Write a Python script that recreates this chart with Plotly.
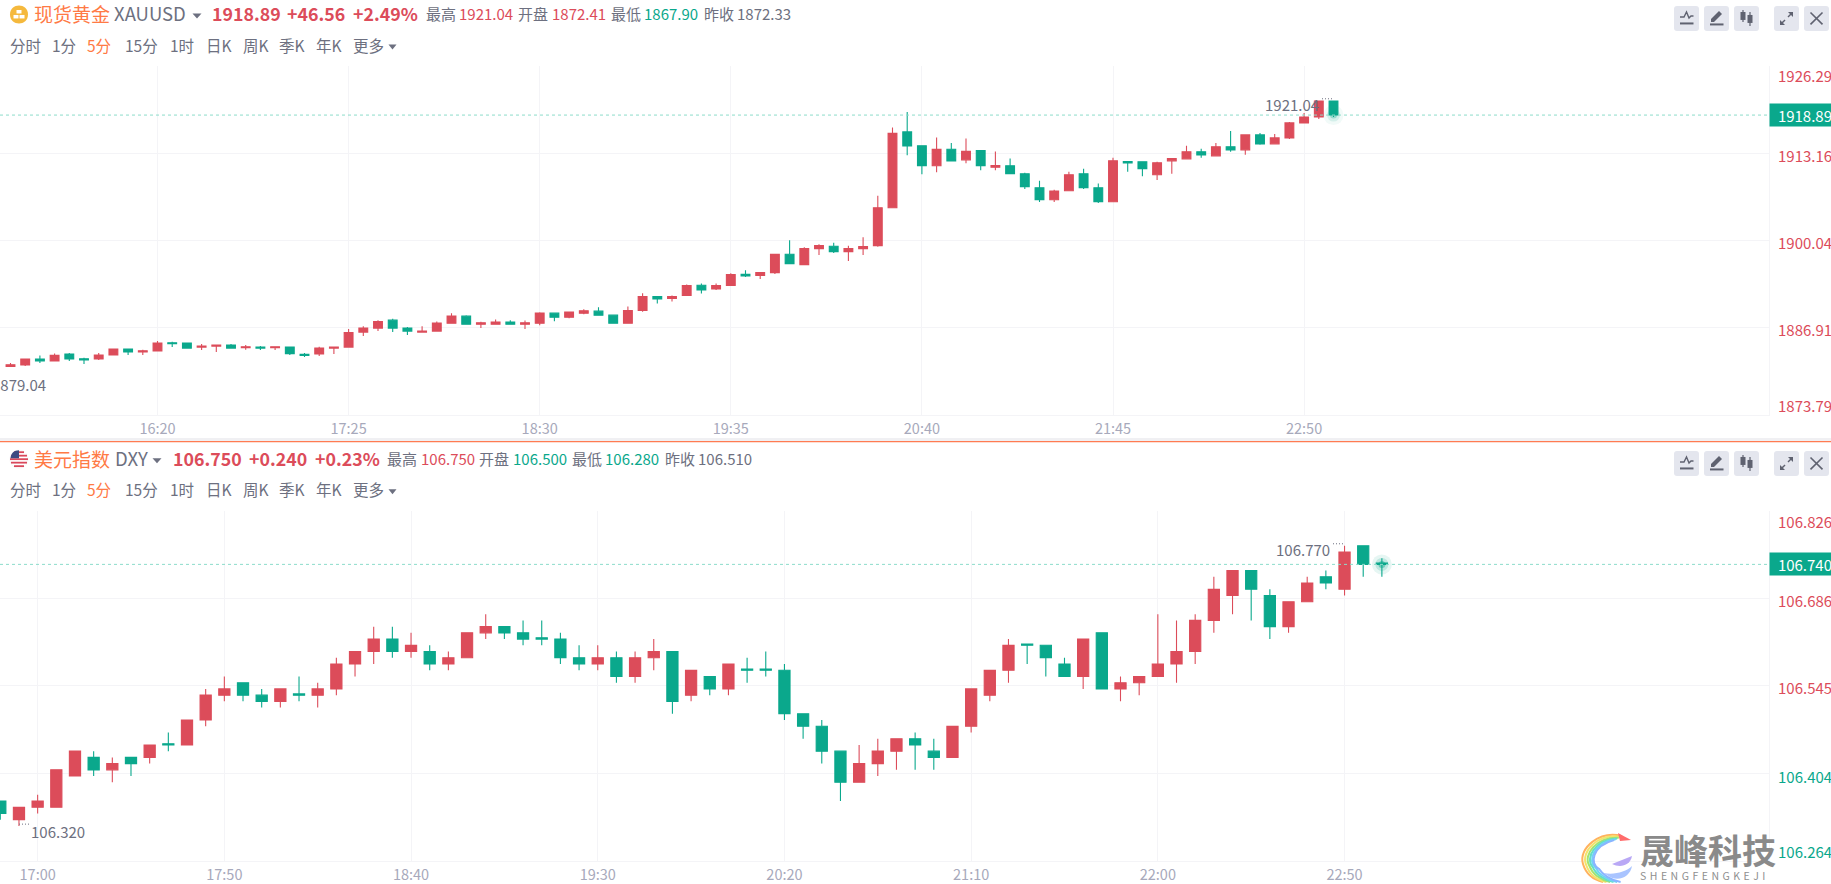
import pandas as pd
import plotly.graph_objects as go

W, H = 1831, 884
FONT = "Noto Sans CJK SC"
RED = "#dc4c5a"
GREEN = "#0aa88c"
ORANGE = "#ff7a45"
GRAY = "#6d7080"
TICK_GRAY = "#a7a9bb"
GRID = "#f4f4f7"
BTN = "#e4e6ee"
ICON = "#5f6270"

# gold, 5 minute bars
gold_open = [1881.11, 1881.31, 1882.21, 1881.91, 1882.96, 1882.26, 1882.21, 1882.81, 1883.71, 1883.26,
             1883.41, 1884.66, 1884.61, 1884.01, 1884.16, 1884.31, 1883.91, 1884.01, 1883.91, 1884.01,
             1882.91, 1882.96, 1883.86, 1884.01, 1886.26, 1886.86, 1888.06, 1886.86, 1886.26, 1886.41,
             1887.61, 1888.66, 1887.46, 1887.46, 1887.76, 1887.46, 1887.61, 1889.11, 1888.51, 1889.11,
             1889.41, 1888.81, 1887.61, 1889.51, 1891.61, 1891.31, 1891.76, 1893.31, 1892.76, 1893.26,
             1894.96, 1894.76, 1895.21, 1897.96, 1896.41, 1898.81, 1899.16, 1898.36, 1898.81, 1899.26,
             1904.96, 1916.36, 1914.26, 1911.26, 1913.76, 1912.16, 1913.56, 1911.06, 1911.26, 1910.06,
             1907.96, 1906.16, 1907.51, 1910.06, 1907.96, 1905.86, 1911.91, 1911.86, 1909.91, 1912.01,
             1912.31, 1913.36, 1912.76, 1914.11, 1913.66, 1915.91, 1914.56, 1915.46, 1917.71, 1918.61,
             1921.01]
gold_high = [1881.61, 1882.21, 1882.76, 1883.06, 1883.11, 1882.41, 1883.11, 1883.71, 1883.76, 1883.61,
             1884.91, 1884.81, 1884.61, 1884.46, 1884.31, 1884.46, 1884.31, 1884.16, 1884.06, 1884.01,
             1883.11, 1884.06, 1884.01, 1886.71, 1887.16, 1888.06, 1888.26, 1887.01, 1887.16, 1887.86,
             1889.11, 1888.81, 1887.81, 1888.16, 1888.06, 1888.01, 1889.26, 1889.11, 1889.26, 1889.71,
             1890.01, 1888.81, 1890.11, 1892.11, 1891.61, 1891.76, 1893.41, 1893.56, 1893.56, 1895.11,
             1895.56, 1895.21, 1897.96, 1900.06, 1899.01, 1899.46, 1899.71, 1899.26, 1900.51, 1906.76,
             1917.01, 1919.36, 1914.26, 1915.51, 1914.71, 1915.36, 1913.56, 1913.41, 1912.36, 1910.21,
             1909.01, 1907.66, 1910.36, 1910.81, 1908.61, 1912.46, 1911.91, 1911.86, 1911.86, 1912.41,
             1914.26, 1913.81, 1914.71, 1916.51, 1915.91, 1916.21, 1916.06, 1917.86, 1919.21, 1921.04,
             1921.01]
gold_low = [1881.01, 1881.16, 1881.61, 1881.91, 1881.91, 1881.46, 1882.06, 1882.81, 1882.81, 1882.81,
            1883.41, 1884.01, 1883.81, 1883.56, 1883.26, 1883.81, 1883.61, 1883.56, 1883.56, 1882.81,
            1882.51, 1882.66, 1882.96, 1884.01, 1885.66, 1886.41, 1886.26, 1885.81, 1886.26, 1886.41,
            1887.61, 1887.46, 1886.86, 1887.36, 1887.36, 1886.71, 1887.31, 1887.91, 1888.36, 1888.96,
            1888.81, 1887.61, 1887.61, 1889.31, 1890.56, 1890.86, 1891.76, 1892.06, 1892.61, 1893.26,
            1894.56, 1894.26, 1895.01, 1896.56, 1896.41, 1897.86, 1898.16, 1896.96, 1897.86, 1899.11,
            1904.96, 1912.86, 1910.01, 1910.31, 1912.01, 1911.66, 1910.61, 1910.61, 1910.06, 1907.76,
            1905.81, 1905.81, 1907.51, 1907.76, 1905.66, 1905.86, 1910.36, 1909.71, 1909.11, 1910.06,
            1912.21, 1912.46, 1912.66, 1913.36, 1912.91, 1914.41, 1914.56, 1915.31, 1917.71, 1918.31,
            1918.61]
gold_close = [1881.36, 1882.21, 1881.91, 1882.76, 1882.21, 1882.06, 1882.81, 1883.71, 1883.26, 1883.46,
              1884.61, 1884.51, 1883.86, 1884.16, 1884.31, 1883.86, 1884.06, 1883.86, 1884.06, 1883.01,
              1882.76, 1883.86, 1884.01, 1886.21, 1886.86, 1887.86, 1886.86, 1886.41, 1886.41, 1887.61,
              1888.66, 1887.46, 1887.66, 1887.76, 1887.46, 1887.66, 1889.11, 1888.51, 1889.26, 1889.46,
              1888.81, 1887.61, 1889.51, 1891.61, 1891.26, 1891.61, 1893.26, 1892.61, 1893.26, 1894.91,
              1894.71, 1895.21, 1897.96, 1896.56, 1898.81, 1899.26, 1898.36, 1898.81, 1899.11, 1904.96,
              1916.16, 1914.26, 1911.26, 1913.76, 1912.01, 1913.46, 1911.26, 1911.31, 1910.06, 1908.11,
              1906.16, 1907.46, 1909.91, 1907.96, 1905.86, 1912.01, 1911.71, 1910.81, 1911.71, 1912.36,
              1913.36, 1912.91, 1914.11, 1913.66, 1915.91, 1914.56, 1915.46, 1917.71, 1918.61, 1921.01,
              1918.89]
gold_ticks = [1926.29, 1913.16, 1900.04, 1886.91, 1873.79]
gold_time_labels = ["16:20", "17:25", "18:30", "19:35", "20:40", "21:45", "22:50"]

# dollar index, 5 minute bars
dxy_open = [106.36, 106.33, 106.35, 106.35, 106.40, 106.43, 106.41, 106.43, 106.43, 106.452,
            106.45, 106.49, 106.53, 106.55, 106.53, 106.52, 106.532, 106.53, 106.54, 106.58,
            106.60, 106.62, 106.60, 106.60, 106.58, 106.59, 106.63, 106.64, 106.63, 106.622,
            106.62, 106.59, 106.58, 106.59, 106.56, 106.59, 106.60, 106.53, 106.56, 106.54,
            106.572, 106.572, 106.57, 106.50, 106.48, 106.44, 106.39, 106.42, 106.44, 106.46,
            106.44, 106.43, 106.48, 106.53, 106.57, 106.612, 106.61, 106.58, 106.56, 106.63,
            106.54, 106.55, 106.56, 106.58, 106.60, 106.65, 106.69, 106.73, 106.69, 106.64,
            106.68, 106.72, 106.70, 106.77, 106.742]
dxy_high = [106.36, 106.35, 106.37, 106.41, 106.44, 106.44, 106.43, 106.43, 106.45, 106.47,
            106.49, 106.54, 106.56, 106.55, 106.54, 106.54, 106.56, 106.55, 106.59, 106.60,
            106.64, 106.64, 106.63, 106.61, 106.60, 106.63, 106.66, 106.64, 106.65, 106.65,
            106.63, 106.61, 106.61, 106.60, 106.60, 106.62, 106.60, 106.57, 106.56, 106.58,
            106.59, 106.60, 106.58, 106.50, 106.49, 106.44, 106.45, 106.46, 106.46, 106.47,
            106.46, 106.48, 106.54, 106.57, 106.62, 106.61, 106.61, 106.59, 106.62, 106.63,
            106.56, 106.56, 106.66, 106.65, 106.66, 106.72, 106.73, 106.73, 106.70, 106.68,
            106.72, 106.73, 106.77, 106.77, 106.75]
dxy_low = [106.33, 106.32, 106.34, 106.35, 106.40, 106.40, 106.39, 106.40, 106.42, 106.44,
           106.45, 106.48, 106.52, 106.52, 106.51, 106.51, 106.52, 106.51, 106.53, 106.56,
           106.58, 106.59, 106.59, 106.57, 106.57, 106.59, 106.62, 106.62, 106.61, 106.61,
           106.58, 106.57, 106.57, 106.55, 106.55, 106.57, 106.50, 106.52, 106.53, 106.53,
           106.55, 106.56, 106.49, 106.46, 106.42, 106.36, 106.39, 106.40, 106.41, 106.41,
           106.41, 106.43, 106.47, 106.52, 106.55, 106.58, 106.56, 106.56, 106.54, 106.54,
           106.52, 106.53, 106.56, 106.55, 106.58, 106.63, 106.66, 106.65, 106.62, 106.63,
           106.68, 106.70, 106.69, 106.72, 106.72]
dxy_close = [106.34, 106.35, 106.36, 106.41, 106.44, 106.41, 106.42, 106.42, 106.45, 106.45,
             106.49, 106.53, 106.54, 106.53, 106.52, 106.54, 106.53, 106.54, 106.58, 106.60,
             106.62, 106.60, 106.61, 106.58, 106.59, 106.63, 106.64, 106.63, 106.62, 106.62,
             106.59, 106.58, 106.59, 106.56, 106.59, 106.60, 106.52, 106.57, 106.54, 106.58,
             106.57, 106.57, 106.50, 106.48, 106.44, 106.39, 106.42, 106.44, 106.46, 106.45,
             106.43, 106.48, 106.54, 106.57, 106.61, 106.61, 106.59, 106.56, 106.62, 106.54,
             106.55, 106.56, 106.58, 106.60, 106.65, 106.70, 106.73, 106.70, 106.64, 106.68,
             106.71, 106.71, 106.76, 106.74, 106.74]
dxy_ticks = [106.826, 106.686, 106.545, 106.404, 106.264]
dxy_time_labels = ["17:00", "17:50", "18:40", "19:30", "20:20", "21:10", "22:00", "22:50"]

DAY = "2023-10-09 "
gold_times = pd.date_range(DAY + "15:30", periods=len(gold_open), freq="5min")
dxy_times = pd.date_range(DAY + "16:50", periods=len(dxy_open), freq="5min")


def px(x):
    return x / W


def py(y):
    return 1 - y / H


def x_range(first, first_px, bar_px):
    # axis range so that the first bar lands on first_px with bar_px per bar
    per_px = pd.Timedelta(minutes=5) / bar_px
    return [first - first_px * per_px, first + (1769 - first_px) * per_px]


fig = go.Figure()

for times, o, h, l, c, ax, glow in [
    (gold_times, gold_open, gold_high, gold_low, gold_close, "", [0.06, 0.12, 0.3]),
    (dxy_times, dxy_open, dxy_high, dxy_low, dxy_close, "2", [0.1, 0.18, 0.45]),
]:
    fig.add_trace(go.Candlestick(
        x=times, open=o, high=h, low=l, close=c,
        xaxis="x" + ax, yaxis="y" + ax,
        increasing=dict(line=dict(color=RED, width=1.1), fillcolor=RED),
        decreasing=dict(line=dict(color=GREEN, width=1.1), fillcolor=GREEN),
        whiskerwidth=0, hoverinfo="skip", showlegend=False,
    ))
    # glow on the live price
    fig.add_trace(go.Scatter(
        x=[times[-1], times[-1], times[-1]], y=[c[-1], c[-1], c[-1]],
        xaxis="x" + ax, yaxis="y" + ax, mode="markers",
        marker=dict(size=[20, 13, 7], color=GREEN, opacity=glow, line=dict(width=0)),
        hoverinfo="skip", showlegend=False,
    ))

axis_common = dict(
    showgrid=True, gridcolor=GRID, gridwidth=1, zeroline=False, showline=True,
    linecolor=GRID, linewidth=1, ticks="",
)
time_axis = dict(axis_common, ticks="outside", ticklen=1, tickcolor="rgba(0,0,0,0)",
                 rangeslider=dict(visible=False), tickmode="array",
                 tickfont=dict(size=14.5, color=TICK_GRAY))
fig.update_layout(
    width=W, height=H, margin=dict(l=0, r=0, t=0, b=0),
    paper_bgcolor="white", plot_bgcolor="white",
    font=dict(family=FONT, size=15, color=GRAY),
    boxgap=0.4, boxgroupgap=0, showlegend=False,
    xaxis=dict(time_axis, domain=[0, px(1769)], anchor="y",
               range=x_range(gold_times[0], 10.5, 14.7),
               tickvals=[DAY + t for t in gold_time_labels], ticktext=gold_time_labels),
    yaxis=dict(axis_common, domain=[py(416), py(66)], anchor="x", side="right",
               range=[gold_ticks[-1], gold_ticks[0]],
               tickmode="array", tickvals=gold_ticks, showticklabels=False),
    xaxis2=dict(time_axis, domain=[0, px(1769)], anchor="y2",
                range=x_range(dxy_times[0], 0.3, 18.67),
                tickvals=[DAY + t for t in dxy_time_labels], ticktext=dxy_time_labels),
    yaxis2=dict(axis_common, domain=[py(862.7), py(512)], anchor="x2", side="right",
                range=[dxy_ticks[-1], dxy_ticks[0]],
                tickmode="array", tickvals=dxy_ticks, showticklabels=False),
)


def label(x, y, text, color=GRAY, size=15, anchor="left"):
    # annotations sit a little right and low of the anchor
    if anchor == "left":
        x -= 1.5
    fig.add_annotation(xref="paper", yref="paper", x=px(x), y=py(y - 1), text=text, showarrow=False,
                       xanchor=anchor, yanchor="middle", borderpad=0,
                       font=dict(family=FONT, size=size, color=color))


def path(*segs):
    out = []
    for cmd, *pts in segs:
        coords = []
        for i in range(0, len(pts), 2):
            coords.append(f"{px(pts[i]):.5f},{py(pts[i + 1]):.5f}")
        out.append(cmd + " ".join(coords))
    return " ".join(out)


def add_path(d, fill=None, line=None, width=0, layer="above", dash="solid"):
    fig.add_shape(type="path", xref="paper", yref="paper", path=d, fillcolor=fill or "rgba(0,0,0,0)",
                  line=dict(color=line or "rgba(0,0,0,0)", width=width, dash=dash), layer=layer)


def caret(x, y, w=4.5):
    add_path(path(("M", x - w, y - 2), ("L", x + w, y - 2), ("L", x, y + 3), ("Z",)), fill=GRAY)


def button(x, y, kind):
    r = 3
    s = 25
    add_path(path(("M", x + r, y), ("L", x + s - r, y), ("Q", x + s, y, x + s, y + r), ("L", x + s, y + s - r),
                  ("Q", x + s, y + s, x + s - r, y + s), ("L", x + r, y + s), ("Q", x, y + s, x, y + s - r),
                  ("L", x, y + r), ("Q", x, y, x + r, y), ("Z",)), fill=BTN)
    if kind == "line":
        add_path(path(("M", x + 6, y + 11), ("L", x + 10, y + 11), ("L", x + 12.5, y + 6), ("L", x + 15, y + 12),
                      ("L", x + 17, y + 10), ("L", x + 19.5, y + 10)), line=ICON, width=1.4)
        add_path(path(("M", x + 6, y + 17.5), ("L", x + 19.5, y + 17.5)), line=ICON, width=2)
    elif kind == "pen":
        add_path(path(("M", x + 7, y + 13), ("L", x + 15, y + 5), ("L", x + 18, y + 8), ("L", x + 10, y + 16),
                      ("L", x + 7, y + 16), ("Z",)), fill=ICON)
        add_path(path(("M", x + 6, y + 18.5), ("L", x + 19.5, y + 18.5)), line=ICON, width=2)
    elif kind == "bars":
        for cx, top, bot, low, high in [(9, 6, 14, 4, 16), (16, 9, 17, 6, 20)]:
            add_path(path(("M", x + cx, y + low), ("L", x + cx, y + high)), line=ICON, width=1.2)
            add_path(path(("M", x + cx - 2.5, y + top), ("L", x + cx + 2.5, y + top), ("L", x + cx + 2.5, y + bot),
                          ("L", x + cx - 2.5, y + bot), ("Z",)), fill=ICON)
    elif kind == "expand":
        add_path(path(("M", x + 14, y + 11), ("L", x + 18, y + 7)), line=ICON, width=1.5)
        add_path(path(("M", x + 7, y + 18), ("L", x + 11, y + 14)), line=ICON, width=1.5)
        add_path(path(("M", x + 14, y + 6), ("L", x + 19, y + 6), ("L", x + 19, y + 11), ("Z",)), fill=ICON)
        add_path(path(("M", x + 6, y + 14), ("L", x + 6, y + 19), ("L", x + 11, y + 19), ("Z",)), fill=ICON)
    else:
        add_path(path(("M", x + 6.5, y + 6.5), ("L", x + 18.5, y + 18.5)), line=ICON, width=1.6)
        add_path(path(("M", x + 18.5, y + 6.5), ("L", x + 6.5, y + 18.5)), line=ICON, width=1.6)


def tabs(y):
    items = [(10, "分时"), (52.5, "1分"), (87.8, "5分"), (125, "15分"), (170, "1时"), (206.6, "日K"),
             (243, "周K"), (279.6, "季K"), (316, "年K"), (353.6, "更多")]
    for x, t in items:
        label(x, y, t, ORANGE if t == "5分" else GRAY, 15.5)
    caret(392.5, y + 1, 4)


def buttons(y):
    for x, kind in [(1674, "line"), (1704, "pen"), (1734, "bars"), (1774, "expand"), (1804, "close")]:
        button(x, y, kind)


# gold header
hy = 14.5
add_path(path(("M", 10, hy), ("C", 10, hy - 12, 28, hy - 12, 28, hy), ("C", 28, hy + 12, 10, hy + 12, 10, hy), ("Z",)),
         fill="#f5b93d")
for bx, by in [(16.5, 10), (13.5, 15), (19.5, 15)]:
    add_path(path(("M", bx, by), ("L", bx + 5, by), ("L", bx + 5, by + 3.5), ("L", bx, by + 3.5), ("Z",)), fill="white")
label(34.7, hy, "现货黄金", ORANGE, 19)
label(114, hy, "XAUUSD", GRAY, 18.5)
caret(197, hy + 1)
for x, t in [(212, "1918.89"), (287, "+46.56"), (353.6, "+2.49%")]:
    label(x, hy, f"<b>{t}</b>", RED, 17.8)
for x, t, col in [(426.5, "最高", GRAY), (460, "1921.04", RED), (518, "开盘", GRAY), (552, "1872.41", RED),
                  (611, "最低", GRAY), (644, "1867.90", GREEN), (704, "昨收", GRAY), (737, "1872.33", GRAY)]:
    label(x, hy, t, col, 15)
tabs(45.7)
buttons(6)

# dollar index header
hy = 460.2
add_path(path(("M", 10, hy), ("C", 10, hy - 12, 28, hy - 12, 28, hy), ("C", 28, hy + 12, 10, hy + 12, 10, hy), ("Z",)),
         fill="#ffffff", line="#eeeeee", width=0.5)
for dy, half in [(-7, 5), (-3.5, 8), (0, 9), (3.5, 8), (7, 5)]:
    add_path(path(("M", 19 - half, hy + dy), ("L", 19 + half, hy + dy)), line="#d9485b", width=1.8)
add_path(path(("M", 10.5, hy - 1), ("C", 11, hy - 6, 14, hy - 9, 19, hy - 9), ("L", 19, hy - 1), ("Z",)), fill="#3c4a82")
label(34.7, hy, "美元指数", ORANGE, 19)
label(115, hy, "DXY", GRAY, 18.5)
caret(157, hy + 1)
for x, t in [(173.5, "106.750"), (249, "+0.240"), (315, "+0.23%")]:
    label(x, hy, f"<b>{t}</b>", RED, 17.8)
for x, t, col in [(387.8, "最高", GRAY), (421, "106.750", RED), (479.6, "开盘", GRAY), (513, "106.500", GREEN),
                  (572, "最低", GRAY), (605.6, "106.280", GREEN), (665, "昨收", GRAY), (698, "106.510", GRAY)]:
    label(x, hy, t, col, 15)
tabs(491.3)
buttons(452)

# divider between the two charts
add_path(path(("M", 0, 440.5), ("L", W, 440.5)), line="#f0f0f3", width=3, layer="below")
add_path(path(("M", 0, 442.6), ("L", W, 442.6)), line="#ff7b52", width=1.2)

# value labels at the right, shifted off their grid lines
for ticks, shifts, yref, prev in [
    (gold_ticks, [-10, -2, -2, -2, 9.5], "y", 1872.33),
    (dxy_ticks, [-10.7, -2, -2, -2.5, 9], "y2", 106.51),
]:
    for v, s in zip(ticks, shifts):
        fig.add_annotation(xref="paper", yref=yref, x=px(1776.5), y=v, yshift=s, text=str(v), showarrow=False,
                           xanchor="left", yanchor="middle", borderpad=0,
                           font=dict(family=FONT, size=15, color=RED if v > prev else GREEN))

# live price line and tag
for price, text, yref in [(gold_close[-1], "1918.89", "y"), (dxy_close[-1], "106.740", "y2")]:
    fig.add_shape(type="line", xref="paper", yref=yref, x0=0, x1=px(1769), y0=price, y1=price,
                  line=dict(color="#8ddccb", width=1, dash="3px,3px"), layer="above")
    fig.add_annotation(xref="paper", yref=yref, x=px(1769), y=price, text=text, showarrow=False,
                       xanchor="left", yanchor="middle", width=62, height=22, bgcolor=GREEN, align="right",
                       borderpad=0, font=dict(family=FONT, size=15, color="white"))

# high / low call-outs on the bars
label(46.6, 386.7, "1879.04", GRAY, 15, anchor="right")
label(1320, 105.7, "1921.04", GRAY, 15, anchor="right")
label(1276, 552, "106.770", GRAY, 15)
label(31, 834, "106.320", GRAY, 15)
for x0, x1, y in [(1322, 1333, 99), (1333, 1343, 545), (19, 29, 826)]:
    add_path(path(("M", x0, y), ("L", x1, y)), line=GRAY, width=1, dash="1px,2px")

# watermark
label(1640.5, 852, "<b>晟峰科技</b>", "#8a8a8a", 34)
label(1640.5, 878.5, "\u2004".join("SHENGFENGKEJI"), "#8f8f8f", 10.5)
swoosh = ["#ff6b6b", "#ffb25e", "#f3e36b", "#a5e36f", "#66e0c0", "#6fd3f7", "#8ab4ff"]
for i, col in enumerate(swoosh[1:]):
    d = i * 3.2
    add_path(path(("M", 1622 - d * 0.5, 838 + d * 0.25), ("C", 1600 - d * 0.5, 832 + d, 1578 + d * 0.7, 850 + d, 1583 + d, 866 + d * 0.3),
                  ("C", 1586 + d, 876, 1594 + d, 882, 1603 + d * 1.1, 884)), line=col, width=2)
add_path(path(("M", 1618, 835), ("L", 1631, 842), ("L", 1620, 843), ("Z",)), fill=swoosh[0])
add_path(path(("M", 1612, 866), ("L", 1632, 858), ("C", 1630, 868, 1620, 870, 1612, 866), ("Z",)), fill="#b9a8f5")
add_path(path(("M", 1604, 875), ("C", 1614, 877, 1626, 874, 1632, 868), ("C", 1630, 880, 1616, 886, 1604, 875), ("Z",)), fill="#a9c4ff")

fig.write_html("out.html", config=dict(displayModeBar=False), post_script="document.body.style.margin='0';")
